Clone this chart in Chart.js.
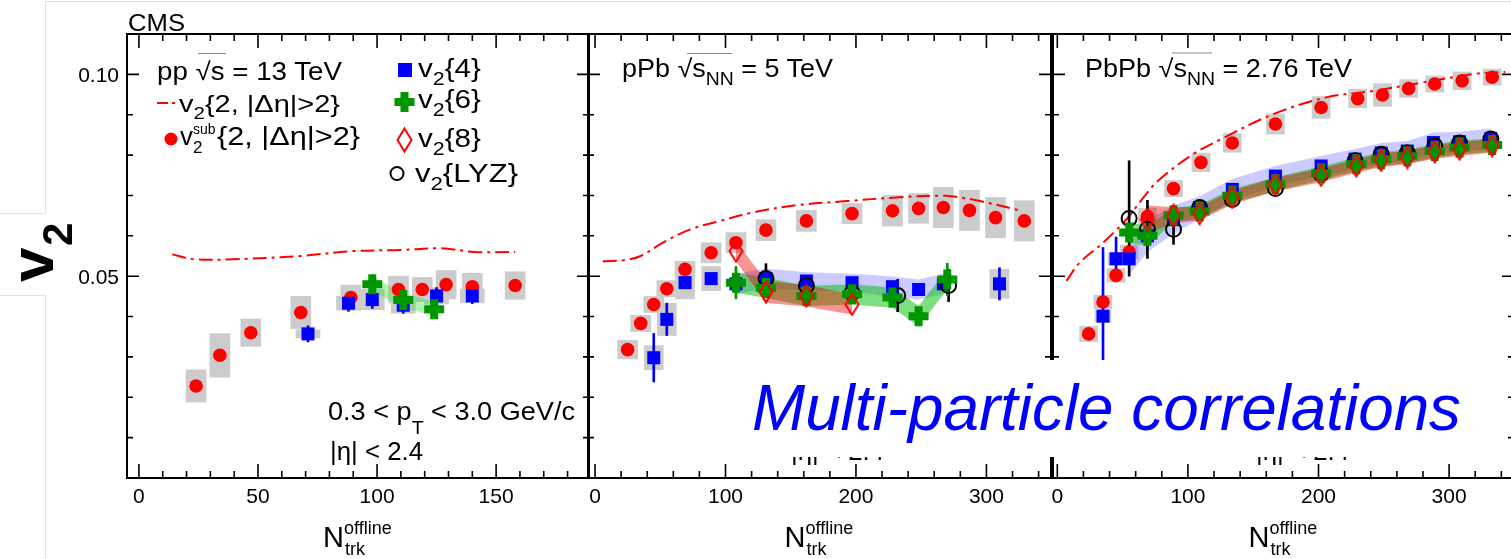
<!DOCTYPE html>
<html>
<head>
<meta charset="utf-8">
<title>CMS v2 multi-particle correlations</title>
<script src="https://cdn.jsdelivr.net/npm/chart.js@4.4.1/dist/chart.umd.min.js"></script>
<style>
html, body { margin: 0; padding: 0; background: #fff; overflow: hidden; }
#page { position: relative; width: 1511px; height: 559px; overflow: hidden; background: #fff; }
.panel { position: absolute; top: 0; height: 559px; }
#ann { position: absolute; left: 0; top: 0; font-family: "Liberation Sans", Arial, Helvetica, sans-serif; }
</style>
</head>
<body>
<div id="page">
  <div class="panel" style="left:0;width:640px"><canvas id="cPP" width="640" height="559"></canvas></div>
  <div class="panel" style="left:540px;width:560px"><canvas id="cPA" width="560" height="559"></canvas></div>
  <div class="panel" style="left:1000px;width:560px"><canvas id="cAA" width="560" height="559"></canvas></div>

  <svg id="ann" width="1511" height="559" xmlns="http://www.w3.org/2000/svg">
    <!-- faint frame of the pasted figure -->
    <path d="M46 1.5H1511 M45.5 1V213.5H0 M0 295.5H45.5V559" stroke="#e2e2e2" stroke-width="1" fill="none"/>

    <text x="128" y="31" font-size="23" textLength="57" lengthAdjust="spacingAndGlyphs">CMS</text>

    <g font-weight="bold">
      <text transform="translate(53 282) rotate(-90)" font-size="62">v</text>
      <text transform="translate(72 246) rotate(-90)" font-size="42">2</text>
    </g>

    <!-- pp legend, left column -->
    <text x="157" y="80" font-size="25" textLength="185" lengthAdjust="spacingAndGlyphs">pp √s = 13 TeV</text>
    <line x1="198" y1="53.5" x2="226" y2="53.5" stroke="#888" stroke-width="1"/>
    <path d="M157 103H168 M172 103H175" stroke="#ff0000" stroke-width="2"/>
    <text x="179" y="112" font-size="24" textLength="161" lengthAdjust="spacingAndGlyphs">v<tspan dy="7" font-size="17">2</tspan><tspan dy="-7">{2, |Δη|&gt;2}</tspan></text>
    <circle cx="171" cy="139" r="6.5" fill="#ff0000"/>
    <text x="180" y="145" font-size="26">v</text>
    <text x="193" y="134" font-size="14">sub</text>
    <text x="193" y="153" font-size="17">2</text>
    <text x="217" y="145" font-size="26" textLength="143" lengthAdjust="spacingAndGlyphs">{2, |Δη|&gt;2}</text>

    <!-- pp legend, right column -->
    <rect x="398" y="63" width="14" height="14" fill="#0000ff"/>
    <path d="M394.5 102H414.5 M404.5 92V112" stroke="rgb(0,150,0)" stroke-width="8"/>
    <path d="M404.5 128.5L411.5 140L404.5 151.5L397.5 140Z" fill="none" stroke="#ff0000" stroke-width="2"/>
    <circle cx="397" cy="173.5" r="6.5" fill="none" stroke="#000" stroke-width="2"/>
    <text x="418" y="77" font-size="25" textLength="63" lengthAdjust="spacingAndGlyphs">v<tspan dy="8" font-size="18">2</tspan><tspan dy="-8">{4}</tspan></text>
    <text x="418" y="108" font-size="25" textLength="63" lengthAdjust="spacingAndGlyphs">v<tspan dy="8" font-size="18">2</tspan><tspan dy="-8">{6}</tspan></text>
    <text x="418" y="147" font-size="25" textLength="63" lengthAdjust="spacingAndGlyphs">v<tspan dy="8" font-size="18">2</tspan><tspan dy="-8">{8}</tspan></text>
    <text x="415" y="182" font-size="25" textLength="103" lengthAdjust="spacingAndGlyphs">v<tspan dy="8" font-size="18">2</tspan><tspan dy="-8">{LYZ}</tspan></text>

    <!-- system labels -->
    <text x="622" y="77" font-size="25" textLength="211" lengthAdjust="spacingAndGlyphs">pPb √s<tspan dy="8" font-size="18">NN</tspan><tspan dy="-8"> = 5 TeV</tspan></text>
    <line x1="687" y1="53.5" x2="732" y2="53.5" stroke="#888" stroke-width="1"/>
    <text x="1085" y="77" font-size="25" textLength="267" lengthAdjust="spacingAndGlyphs">PbPb √s<tspan dy="8" font-size="18">NN</tspan><tspan dy="-8"> = 2.76 TeV</tspan></text>
    <line x1="1172" y1="53" x2="1212" y2="53" stroke="#888" stroke-width="1"/>

    <!-- kinematic cuts (repeated in every panel) -->
    <g font-size="25">
      <text x="328" y="420" textLength="247" lengthAdjust="spacingAndGlyphs">0.3 &lt; p<tspan dy="14" font-size="18">T</tspan><tspan dy="-14"> &lt; 3.0 GeV/c</tspan></text>
      <text x="330" y="460" textLength="93" lengthAdjust="spacingAndGlyphs">|η| &lt; 2.4</text>
      <text x="789" y="420" textLength="247" lengthAdjust="spacingAndGlyphs">0.3 &lt; p<tspan dy="14" font-size="18">T</tspan><tspan dy="-14"> &lt; 3.0 GeV/c</tspan></text>
      <text x="791" y="460" textLength="93" lengthAdjust="spacingAndGlyphs">|η| &lt; 2.4</text>
      <text x="1254" y="420" textLength="247" lengthAdjust="spacingAndGlyphs">0.3 &lt; p<tspan dy="14" font-size="18">T</tspan><tspan dy="-14"> &lt; 3.0 GeV/c</tspan></text>
      <text x="1256" y="460" textLength="93" lengthAdjust="spacingAndGlyphs">|η| &lt; 2.4</text>
    </g>

    <!-- x axis titles -->
    <text x="323" y="547" font-size="29">N</text>
    <text x="344" y="534" font-size="18">offline</text>
    <text x="345" y="555" font-size="18">trk</text>
    <text x="784.5" y="547" font-size="29">N</text>
    <text x="805.5" y="534" font-size="18">offline</text>
    <text x="806.5" y="555" font-size="18">trk</text>
    <text x="1248.5" y="547" font-size="29">N</text>
    <text x="1269.5" y="534" font-size="18">offline</text>
    <text x="1270.5" y="555" font-size="18">trk</text>

    <!-- slide overlay -->
    <rect x="745" y="360" width="757" height="97" fill="#ffffff"/>
    <text x="752" y="430" font-size="64" font-style="italic" fill="#0000ff" textLength="709" lengthAdjust="spacingAndGlyphs">Multi-particle correlations</text>
  </svg>
</div>

<script>
// ---- pp, sqrt(s) = 13 TeV ----
var ppSubN   = [24, 34, 47, 68, 89, 109, 119, 129, 140, 158];
var ppSubV   = [0.0228, 0.0304, 0.0360, 0.0410, 0.0447, 0.0467, 0.0467, 0.0479, 0.0474, 0.0477];
var ppSubSys = [0.0040, 0.0054, 0.0034, 0.0040, 0.0031, 0.0033, 0.0030, 0.0035, 0.0033, 0.0034];
var ppV22N   = [14, 23, 40, 68, 89, 110, 127, 141, 158];
var ppV22V   = [0.0554, 0.0542, 0.0542, 0.0550, 0.0562, 0.0565, 0.0569, 0.0560, 0.0560];
var ppV4N    = [71, 88, 98, 111, 125, 140];
var ppV4V    = [0.0357, 0.0433, 0.0442, 0.0428, 0.0451, 0.0451];
var ppV4Stat = [0.0020, 0.0020, 0.0022, 0.0020, 0.0021, 0.0019];
var ppV4Sys  = [0.0010, 0.0017, 0.0025, 0.0020, 0.0020, 0.0017];
var ppV6N    = [98, 111, 124];
var ppV6V    = [0.0480, 0.0441, 0.0418];
var ppV6Sys  = [0.0018, 0.0018, 0.0018];

// ---- pPb, sqrt(sNN) = 5 TeV ----
var paSubN    = [25, 35, 45, 55, 69, 89, 108, 131, 162, 197, 228, 248, 267, 287, 307, 329];
var paSubV    = [0.0318, 0.0383, 0.0430, 0.0469, 0.0517, 0.0558, 0.0583, 0.0614, 0.0637, 0.0655, 0.0662, 0.0668, 0.0670, 0.0663, 0.0645, 0.0637];
var paSubSys  = [0.0023, 0.0020, 0.0020, 0.0020, 0.0020, 0.0025, 0.0025, 0.0026, 0.0026, 0.0025, 0.0038, 0.0037, 0.0050, 0.0050, 0.0050, 0.0050];
var paV22N    = [6, 23, 35, 52, 73, 96, 121, 155, 193, 231, 269, 295, 324];
var paV22V    = [0.0537, 0.0540, 0.0550, 0.0583, 0.0616, 0.0637, 0.0658, 0.0676, 0.0686, 0.0695, 0.0699, 0.0686, 0.0664];
var paV4N     = [45, 55, 69, 89, 108, 131, 162, 197, 228, 248, 267, 310];
var paV4V     = [0.0298, 0.0393, 0.0484, 0.0494, 0.0481, 0.0494, 0.0488, 0.0484, 0.0474, 0.0467, 0.0481, 0.0481];
var paV4Stat  = [0.0060, 0.0040, 0.0012, 0.0012, 0.0012, 0.0012, 0.0012, 0.0012, 0.0012, 0.0012, 0.0012, 0.0040];
var paV4Sys   = [0.0030, 0.0040, 0.0040, 0.0030, 0.0025, 0.0025, 0.0022, 0.0022, 0.0025, 0.0025, 0.0025, 0.0036];
var paV4Band  = [0, 0, 0, 0, 1, 1, 1, 1, 1, 1, 1, 0];
var paV6N     = [108, 131, 162, 197, 228, 248, 270];
var paV6V     = [0.0484, 0.0471, 0.0451, 0.0455, 0.0447, 0.0401, 0.0492];
var paV6Stat  = [0.0040, 0.0012, 0.0012, 0.0012, 0.0012, 0.0012, 0.0040];
var paV6Sys   = [0.0025, 0.0025, 0.0025, 0.0025, 0.0025, 0.0025, 0.0025];
var paV8N     = [108, 131, 162, 197];
var paV8V     = [0.0562, 0.0461, 0.0451, 0.0430];
var paV8Sys   = [0.0025, 0.0027, 0.0027, 0.0025];
var paLyzN    = [131, 162, 197, 232, 271];
var paLyzV    = [0.0494, 0.0477, 0.0459, 0.0452, 0.0477];
var paLyzStat = [0.0037, 0.0012, 0.0012, 0.0040, 0.0040];

// ---- PbPb, sqrt(sNN) = 2.76 TeV ----
var aaSubN    = [24, 35, 45, 55, 69, 89, 110, 134, 167, 202, 230, 249, 269, 289, 310, 333];
var aaSubV    = [0.0357, 0.0436, 0.0502, 0.0560, 0.0648, 0.0717, 0.0782, 0.0830, 0.0877, 0.0918, 0.0940, 0.0949, 0.0965, 0.0976, 0.0984, 0.0993];
var aaSubSys  = [0.0019, 0.0017, 0.0017, 0.0017, 0.0020, 0.0020, 0.0023, 0.0023, 0.0025, 0.0027, 0.0023, 0.0028, 0.0022, 0.0020, 0.0022, 0.0020];
var aaV22N    = [7, 17, 35, 53, 66, 77, 102, 125, 165, 206, 242, 280, 319, 343];
var aaV22V    = [0.0488, 0.0533, 0.0583, 0.0641, 0.0695, 0.0736, 0.0798, 0.0839, 0.0901, 0.0943, 0.0959, 0.0980, 0.1001, 0.1006];
var aaV4N     = [35, 45, 55, 69, 89, 109, 134, 167, 202, 228, 248, 268, 288, 308, 332];
var aaV4V     = [0.0401, 0.0543, 0.0543, 0.0600, 0.0640, 0.0670, 0.0715, 0.0748, 0.0773, 0.0790, 0.0805, 0.0810, 0.0831, 0.0833, 0.0841];
var aaV4Stat  = [0.0170, 0.0054, 0.0012, 0.0012, 0.0012, 0.0012, 0.0012, 0.0012, 0.0012, 0.0012, 0.0012, 0.0012, 0.0012, 0.0012, 0.0012];
var aaV4Sys   = [0.0015, 0.0015, 0.0040, 0.0040, 0.0035, 0.0028, 0.0026, 0.0025, 0.0025, 0.0025, 0.0025, 0.0025, 0.0025, 0.0025, 0.0025];
var aaV4Band  = [0, 0, 1, 1, 1, 1, 1, 1, 1, 1, 1, 1, 1, 1, 1];
var aaV6N     = [55, 69, 89, 109, 134, 167, 202, 229, 248, 268, 289, 308, 333];
var aaV6V     = [0.0608, 0.0600, 0.0651, 0.0660, 0.0699, 0.0728, 0.0755, 0.0777, 0.0790, 0.0797, 0.0810, 0.0819, 0.0825];
var aaV6Sys   = [0.0025, 0.0025, 0.0017, 0.0017, 0.0017, 0.0017, 0.0017, 0.0017, 0.0017, 0.0017, 0.0017, 0.0017, 0.0017];
var aaV8N     = [69, 89, 109, 134, 167, 202, 229, 248, 268, 289, 308, 333];
var aaV8V     = [0.0640, 0.0651, 0.0655, 0.0695, 0.0727, 0.0750, 0.0773, 0.0787, 0.0794, 0.0808, 0.0815, 0.0823];
var aaV8Sys   = [0.0035, 0.0020, 0.0017, 0.0017, 0.0017, 0.0017, 0.0017, 0.0017, 0.0017, 0.0017, 0.0017, 0.0017];
var aaLyzN    = [55, 69, 89, 109, 134, 167, 202, 228, 248, 268, 289, 308, 332];
var aaLyzV    = [0.0643, 0.0616, 0.0616, 0.0670, 0.0690, 0.0717, 0.0753, 0.0786, 0.0802, 0.0805, 0.0823, 0.0830, 0.0840];
var aaLyzStat = [0.0143, 0.0072, 0.0037, 0.0012, 0.0012, 0.0012, 0.0012, 0.0012, 0.0012, 0.0012, 0.0012, 0.0012, 0.0012];

// ---- axes ----
var ppXTicks = [0, 50, 100, 150];
var ppXText  = ['0', '50', '100', '150'];
var heavyXTicks = [0, 100, 200, 300];
var heavyXText  = ['0', '100', '200', '300'];
var yTicks = [0.05, 0.10];
var yText  = ['0.05', '0.10'];

var GRAY  = 'rgb(204,204,204)';
var RED   = '#ff0000';
var BLUE  = '#0000ff';
var GREEN = 'rgb(0,150,0)';
var BLACK = '#000000';

// open diamond marker (ROOT style 27 look)
var diamond = (function () {
    var c = document.createElement('canvas');
    c.width = 16; c.height = 24;
    var g = c.getContext('2d');
    g.strokeStyle = RED;
    g.lineWidth = 2;
    g.beginPath();
    g.moveTo(8, 1.5); g.lineTo(14.5, 12); g.lineTo(8, 22.5); g.lineTo(1.5, 12);
    g.closePath();
    g.stroke();
    return c;
})();

function xy(n, v) {
    return n.map(function (x, i) { return { x: x, y: v[i] }; });
}
function spans(n, v, s, skip) {
    var out = [];
    n.forEach(function (x, i) {
        if (s[i] > 0 && !(skip && skip[i])) out.push({ x: x, y: [v[i] - s[i], v[i] + s[i]] });
    });
    return out;
}
function edge(n, v, s, sign, keep) {
    var out = [];
    n.forEach(function (x, i) {
        if (!keep || keep[i]) out.push({ x: x, y: v[i] + sign * s[i] });
    });
    return out;
}

// systematic boxes and stat bars as floating bars
function boxes(n, v, s, skip, w) {
    return { type: 'bar', data: spans(n, v, s, skip), backgroundColor: GRAY, barThickness: w, stack: 's', order: 20 };
}
function errs(n, v, s, col) {
    return { type: 'bar', data: spans(n, v, s), backgroundColor: col, barThickness: 2, stack: 's', order: 6 };
}
// systematic band: upper edge filled down to lower edge
function band(n, v, s, keep, col, ord) {
    return [
        { type: 'line', data: edge(n, v, s, 1, keep), fill: '+1', backgroundColor: col,
          borderColor: 'rgba(0,0,0,0)', borderWidth: 0, pointRadius: 0, order: ord },
        { type: 'line', data: edge(n, v, s, -1, keep), fill: false,
          borderColor: 'rgba(0,0,0,0)', borderWidth: 0, pointRadius: 0, order: ord }
    ];
}
function curve(n, v) {
    return { type: 'line', data: xy(n, v), borderColor: RED, borderWidth: 2, borderDash: [14, 5, 3, 5],
             pointRadius: 0, tension: 0.35, fill: false, order: 8 };
}
function marks(n, v, style) {
    return Object.assign({ type: 'line', data: xy(n, v), showLine: false }, style);
}

var SUB = { pointStyle: 'circle', pointRadius: 6.8, pointBackgroundColor: RED, pointBorderWidth: 0, order: 5 };
var V4  = { pointStyle: 'rect', pointRadius: 9.2, pointBackgroundColor: BLUE, pointBorderWidth: 0, order: 4 };
var LYZ = { pointStyle: 'circle', pointRadius: 7.5, pointBackgroundColor: 'rgba(0,0,0,0)',
            pointBorderColor: BLACK, pointBorderWidth: 2, order: 3 };
var V6  = { pointStyle: 'cross', pointRadius: 10, pointBorderColor: GREEN, pointBorderWidth: 8, order: 2 };
var V8  = { pointStyle: diamond, pointRadius: 8, order: 1 };

// ROOT-like frame: inward ticks on all four sides plus tick labels
var rootFrame = {
    id: 'rootFrame',
    afterDraw: function (chart, args, o) {
        var ctx = chart.ctx, a = chart.chartArea;
        var sx = chart.scales.x, sy = chart.scales.y;
        var i, v, p, len;
        ctx.save();
        ctx.strokeStyle = '#000';
        ctx.lineWidth = 1.6;
        ctx.beginPath();
        for (i = Math.ceil(sx.min / o.minorX); i * o.minorX <= sx.max; i++) {
            v = i * o.minorX;
            p = sx.getPixelForValue(v);
            len = o.xTicks.indexOf(v) >= 0 ? 14 : 7;
            ctx.moveTo(p, a.bottom); ctx.lineTo(p, a.bottom - len);
            ctx.moveTo(p, a.top);    ctx.lineTo(p, a.top + len);
        }
        for (i = 1; i * o.minorY < sy.max - 1e-9; i++) {
            v = i * o.minorY;
            p = sy.getPixelForValue(v);
            len = yTicks.some(function (t) { return Math.abs(t - v) < 1e-9; }) ? 12 : 6;
            ctx.moveTo(a.left, p);  ctx.lineTo(a.left + len, p);
            ctx.moveTo(a.right, p); ctx.lineTo(a.right - len, p);
        }
        ctx.stroke();
        ctx.lineWidth = 2;
        ctx.strokeRect(a.left, a.top, a.right - a.left, a.bottom - a.top);

        ctx.fillStyle = '#000';
        ctx.font = '21px "Liberation Sans", Arial, sans-serif';
        ctx.textBaseline = 'alphabetic';
        ctx.textAlign = 'center';
        o.xTicks.forEach(function (t, k) {
            ctx.fillText(o.xText[k], sx.getPixelForValue(t), a.bottom + 25);
        });
        if (o.yLabels) {
            ctx.textAlign = 'right';
            yTicks.forEach(function (t, k) {
                ctx.fillText(yText[k], a.left - 8, sy.getPixelForValue(t) + 8);
            });
        }
        ctx.restore();
    }
};

function panel(id, cfg) {
    return new Chart(document.getElementById(id), {
        type: 'bar',
        data: { datasets: cfg.datasets },
        options: {
            responsive: false,
            animation: false,
            events: [],
            layout: { padding: cfg.pad },
            scales: {
                x: { type: 'linear', display: false, min: cfg.xMin, max: cfg.xMax, offset: false },
                y: { type: 'linear', display: false, min: 0, max: 0.11, stacked: false }
            },
            plugins: {
                legend: { display: false },
                tooltip: { enabled: false },
                rootFrame: cfg.frame
            }
        },
        plugins: [rootFrame]
    });
}

// pp
panel('cPP', {
    xMin: -5, xMax: 189,
    pad: { left: 127, right: 51, top: 34, bottom: 81 },
    frame: { xTicks: ppXTicks, xText: ppXText, minorX: 10, minorY: 0.01, yLabels: true },
    datasets: [
        boxes(ppSubN, ppSubV, ppSubSys, null, 20),
        boxes(ppV4N, ppV4V, ppV4Sys, null, 24)
    ].concat(band(ppV6N, ppV6V, ppV6Sys, null, 'rgba(40,220,40,0.35)', 12), [
        curve(ppV22N, ppV22V),
        errs(ppV4N, ppV4V, ppV4Stat, BLUE),
        marks(ppSubN, ppSubV, SUB),
        marks(ppV4N, ppV4V, V4),
        marks(ppV6N, ppV6V, V6)
    ])
});

// pPb
panel('cPA', {
    xMin: -5.4, xMax: 349.5,
    pad: { left: 48, right: 49, top: 34, bottom: 81 },
    frame: { xTicks: heavyXTicks, xText: heavyXText, minorX: 20, minorY: 0.01, yLabels: false },
    datasets: [
        boxes(paSubN, paSubV, paSubSys, null, 20),
        boxes(paV4N, paV4V, paV4Sys, paV4Band, 19)
    ].concat(
        band(paV4N, paV4V, paV4Sys, paV4Band, 'rgba(70,70,255,0.28)', 14),
        band(paV6N, paV6V, paV6Sys, null, 'rgba(0,190,0,0.5)', 13),
        band(paV8N, paV8V, paV8Sys, null, 'rgba(235,0,0,0.42)', 12), [
        curve(paV22N, paV22V),
        errs(paV4N, paV4V, paV4Stat, BLUE),
        errs(paV6N, paV6V, paV6Stat, GREEN),
        errs(paLyzN, paLyzV, paLyzStat, BLACK),
        marks(paSubN, paSubV, SUB),
        marks(paV4N, paV4V, V4),
        marks(paLyzN, paLyzV, LYZ),
        marks(paV6N, paV6V, V6),
        marks(paV8N, paV8V, V8)
    ])
});

// PbPb
panel('cAA', {
    xMin: -3.3, xMax: 349.7,
    pad: { left: 53, right: 46, top: 34, bottom: 81 },
    frame: { xTicks: heavyXTicks, xText: heavyXText, minorX: 20, minorY: 0.01, yLabels: false },
    datasets: [
        boxes(aaSubN, aaSubV, aaSubSys, null, 18),
        boxes(aaV4N, aaV4V, aaV4Sys, aaV4Band, 16)
    ].concat(
        band(aaV4N, aaV4V, aaV4Sys, aaV4Band, 'rgba(70,70,255,0.28)', 14),
        band(aaV6N, aaV6V, aaV6Sys, null, 'rgba(0,190,0,0.5)', 13),
        band(aaV8N, aaV8V, aaV8Sys, null, 'rgba(235,0,0,0.42)', 12), [
        curve(aaV22N, aaV22V),
        errs(aaV4N, aaV4V, aaV4Stat, BLUE),
        errs(aaLyzN, aaLyzV, aaLyzStat, BLACK),
        marks(aaSubN, aaSubV, SUB),
        marks(aaV4N, aaV4V, V4),
        marks(aaLyzN, aaLyzV, LYZ),
        marks(aaV6N, aaV6V, V6),
        marks(aaV8N, aaV8V, V8)
    ])
});
</script>
</body>
</html>
